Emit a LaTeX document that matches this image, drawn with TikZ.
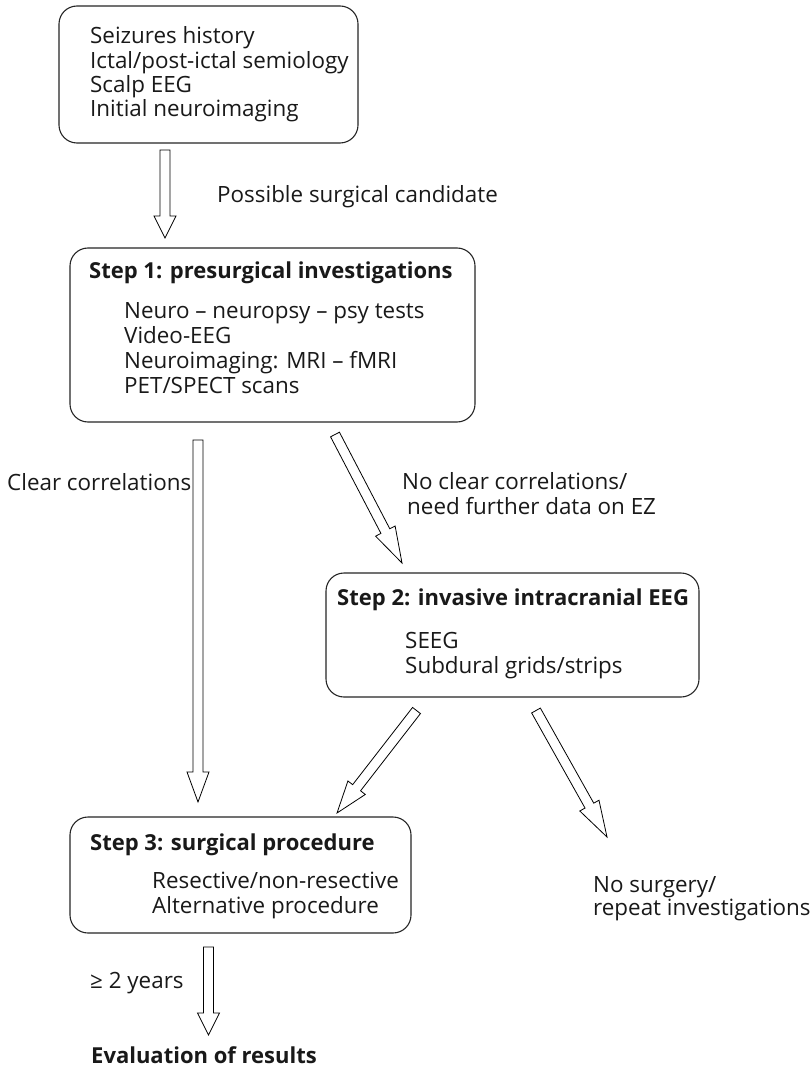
\documentclass[tikz,border=0pt]{standalone}
\usepackage{fontspec}
\setmainfont{Open Sans}
\usetikzlibrary{calc}
\newcommand\hollowarrow[3]{%
  \coordinate (hb) at ($(#2)!#3!(#1)$);
  \draw[arrowline] ($(#1)!5pt!90:(#2)$) -- ($(hb)!5pt!90:(#2)$) -- ($(hb)!11pt!90:(#2)$) -- (#2)
     -- ($(hb)!11pt!-90:(#2)$) -- ($(hb)!5pt!-90:(#2)$) -- ($(#1)!5pt!-90:(#2)$) -- cycle;
}
\tikzset{
  box/.style={draw=black!85, line width=1.1pt, rounded corners=18pt, inner sep=0pt},
  arrowline/.style={draw=black, line width=0.8pt, line join=miter, fill=white},
  txt/.style={anchor=base west, inner sep=0pt, align=left, text=black!90,
     font=\fontsize{22.4}{24.4}\selectfont},
  btxt/.style={txt, font=\fontsize{22}{24.5}\selectfont\bfseries},
  itxt/.style={txt, font=\fontsize{22.4}{25}\selectfont},
  ntxt/.style={txt, font=\fontsize{22.4}{23}\selectfont},
}
\begin{document}
\begin{tikzpicture}[x=1pt,y=-1pt]
\useasboundingbox[fill=white] (0,0) rectangle (811,1067);
% boxes
\node[box, minimum width=299pt, minimum height=137pt] (b0) at (208.5,74.5) {};
\node[box, minimum width=405pt, minimum height=174pt] (b1) at (272.5,335) {};
\node[box, minimum width=373pt, minimum height=124pt] (b2) at (512.5,635) {};
\node[box, minimum width=341pt, minimum height=116pt] (b3) at (240.5,875) {};
% texts (anchor = baseline of the last line)
\node[txt] (t0) at (90,117) {Seizures history\\Ictal/post-ictal semiology\\Scalp EEG\\Initial neuroimaging};
\node[txt] (l1) at (217,203) {Possible surgical candidate};
\node[btxt] (h1) at (89,278) {Step 1: presurgical investigations};
\node[itxt] (t1) at (124,393) {Neuro – neuropsy – psy tests\\Video-EEG\\Neuroimaging: MRI – fMRI\\PET/SPECT scans};
\node[txt] (l2) at (7,490) {Clear correlations};
\node[txt] (l3) at (402,514) {No clear correlations/\\\hspace*{5pt}need further data on EZ};
\node[btxt] (h2) at (337,605) {Step 2: invasive intracranial EEG};
\node[itxt] (t2) at (405,673) {SEEG\\Subdural grids/strips};
\node[btxt] (h3) at (90,850) {Step 3: surgical procedure};
\node[itxt] (t3) at (152,913) {Resective/non-resective\\Alternative procedure};
\node[ntxt] (l4) at (593,915) {No surgery/\\repeat investigations};
\node[txt] (l5) at (90,988) {≥ 2 years};
\node[btxt] (ev) at (91,1063) {Evaluation of results};
% arrow end points
\coordinate (a1s) at (165,150);   \coordinate (a1e) at (165,238);
\coordinate (a2s) at (198,440);   \coordinate (a2e) at (198,802);
\coordinate (a3s) at (335,434.5); \coordinate (a3e) at (402,563);
\coordinate (a4s) at (416.5,710.5); \coordinate (a4e) at (337,813);
\coordinate (a5s) at (536,710.5); \coordinate (a5e) at (607,837);
\coordinate (a6s) at (208.5,947); \coordinate (a6e) at (208.5,1035);
\hollowarrow{a1s}{a1e}{22pt}
\hollowarrow{a2s}{a2e}{30pt}
\hollowarrow{a3s}{a3e}{36pt}
\hollowarrow{a4s}{a4e}{32pt}
\hollowarrow{a5s}{a5e}{36pt}
\hollowarrow{a6s}{a6e}{22pt}
\end{tikzpicture}
\end{document}
